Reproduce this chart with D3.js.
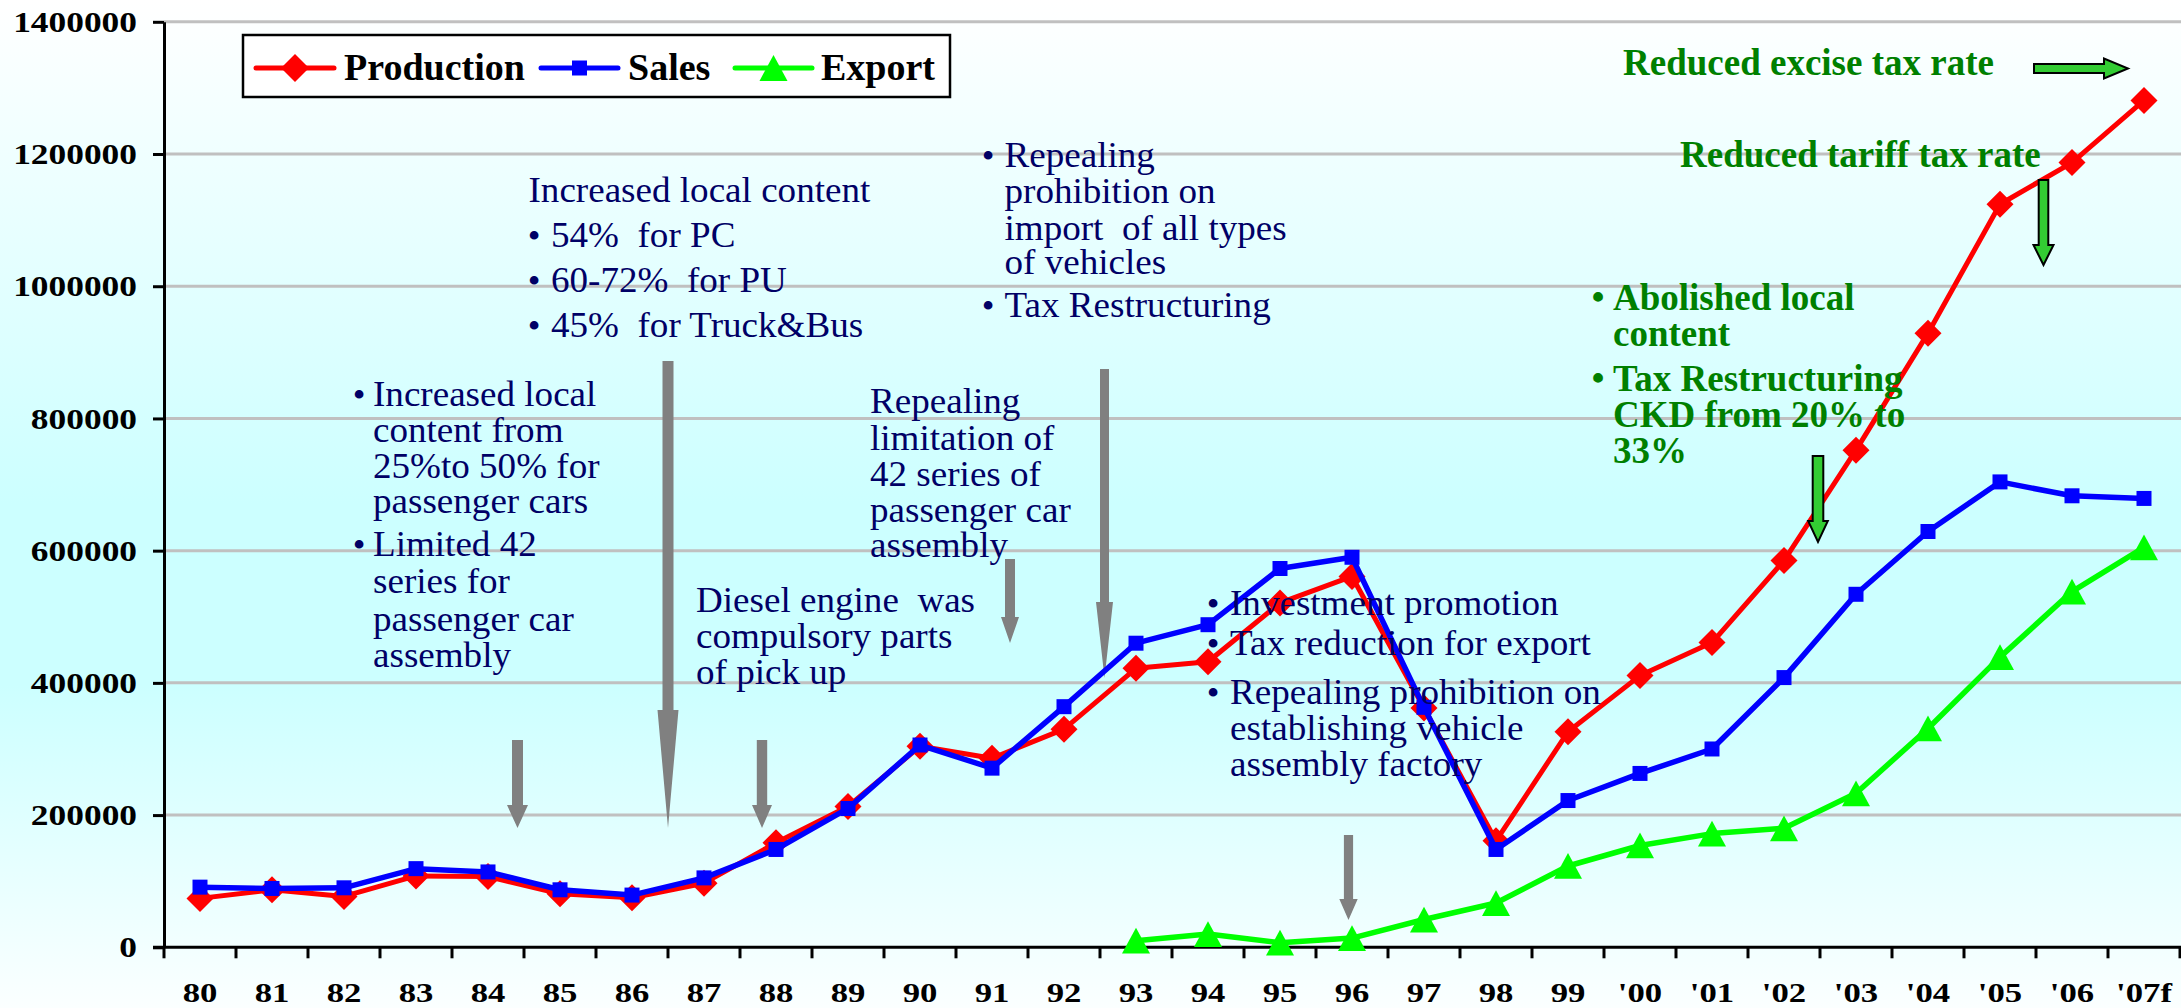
<!DOCTYPE html>
<html>
<head>
<meta charset="utf-8">
<script src="https://cdn.jsdelivr.net/npm/d3@7"></script>
<style>
  html, body { margin: 0; padding: 0; overflow: hidden; background: #fff; }
  svg { display: block; }
  text { font-family: "Liberation Serif", "Times New Roman", serif; white-space: pre; }
</style>
</head>
<body>
<script>
// ---- data ----
const years = ['80', '81', '82', '83', '84', '85', '86', '87', '88', '89',
  '90', '91', '92', '93', '94', '95', '96', '97', '98', '99',
  "'00", "'01", "'02", "'03", "'04", "'05", "'06", "'07f"]

const production = [74000, 87000, 77000, 108000, 107000, 81000, 75000, 97000, 158000, 213000,
  304000, 286000, 330000, 422000, 432000, 521000, 561000, 362000, 161000, 326000,
  411000, 461000, 585000, 752000, 929000, 1124000, 1187000, 1281000]

const sales = [91000, 89000, 90000, 119000, 114000, 87000, 79000, 105000, 148000, 210000,
  306000, 271000, 364000, 460000, 488000, 573000, 590000, 363000, 148000, 222000,
  263000, 300000, 408000, 534000, 629000, 704000, 683000, 679000]

const exportYears = ['93', '94', '95', '96', '97', '98', '99',
  "'00", "'01", "'02", "'03", "'04", "'05", "'06", "'07f"]
const exportVals = [10000, 20000, 7000, 14000, 42000, 67000, 123000,
  154000, 172000, 180000, 233000, 331000, 439000, 538000, 605000]

const yTicks = [0, 200000, 400000, 600000, 800000, 1000000, 1200000, 1400000]

const W = 2181, H = 1008
const svg = d3.select('body').append('svg').attr('width', W).attr('height', H)

// background gradient
const defs = svg.append('defs')
const grad = defs.append('linearGradient').attr('id', 'bg')
  .attr('x1', 0).attr('y1', 0).attr('x2', 0).attr('y2', 1)
grad.append('stop').attr('offset', '0%').attr('stop-color', '#ffffff')
grad.append('stop').attr('offset', '50%').attr('stop-color', '#ccffff')
grad.append('stop').attr('offset', '68%').attr('stop-color', '#ccffff')
grad.append('stop').attr('offset', '100%').attr('stop-color', '#fbffff')
svg.append('rect').attr('width', W).attr('height', H).attr('fill', 'url(#bg)')

const x = d3.scaleBand().domain(years).range([164, 2180])
const y = d3.scaleLinear().domain([0, 1400000]).range([947.3, 21.8])
const bw = x.bandwidth()
const cx = d => x(d) + bw / 2

// gridlines
svg.append('g').selectAll('line').data(yTicks.filter(v => v > 0)).join('line')
  .attr('x1', 164).attr('x2', W)
  .attr('y1', d => y(d)).attr('y2', d => y(d))
  .attr('stroke', '#c0c0c0').attr('stroke-width', 3)

// y axis
const yAxis = svg.append('g').attr('transform', 'translate(164,0)')
  .call(d3.axisLeft(y).tickValues(yTicks).tickFormat(d3.format('d'))
    .tickSize(11).tickSizeOuter(0).tickPadding(16))
yAxis.select('.domain').attr('stroke', '#000').attr('stroke-width', 3)
yAxis.selectAll('.tick line').attr('stroke', '#000').attr('stroke-width', 3)
yAxis.selectAll('.tick text')
  .attr('font-size', 30).attr('font-weight', 'bold').attr('fill', '#000')
  .attr('font-family', '"Liberation Serif", "Times New Roman", serif')
  .attr('x', -27 / 1.18).attr('transform', 'scale(1.18,1)')

// x axis
const xAxis = svg.append('g').attr('transform', `translate(0,${y(0)})`)
  .call(d3.axisBottom(x).tickSize(0).tickSizeOuter(0))
xAxis.select('.domain').remove()
xAxis.selectAll('.tick').attr('transform', d => `translate(${cx(d)},0)`)
xAxis.selectAll('.tick text')
  .attr('font-size', 28).attr('font-weight', 'bold').attr('fill', '#000')
  .attr('font-family', '"Liberation Serif", "Times New Roman", serif')
  .attr('x', 0).attr('y', 55).attr('dy', 0).attr('transform', 'scale(1.24,1)')
xAxis.append('line').attr('x1', 153).attr('x2', W).attr('y1', 0).attr('y2', 0)
  .attr('stroke', '#000').attr('stroke-width', 3)
xAxis.selectAll('.bound').data(years.map(d => x(d)).concat([x.range()[1]])).join('line')
  .attr('class', 'bound')
  .attr('x1', d => d).attr('x2', d => d).attr('y1', 0).attr('y2', 11)
  .attr('stroke', '#000').attr('stroke-width', 3)

// gray arrows (annotation pointers)
const grayArrows = [
  { cx: 517.5, hw: 5.5, top: 740, hs: 805, ah: 10.5, tip: 828 },
  { cx: 668, hw: 5.5, top: 361, hs: 710, ah: 10.5, tip: 828 },
  { cx: 762, hw: 5.2, top: 740, hs: 805, ah: 10, tip: 828 },
  { cx: 1010, hw: 5, top: 559, hs: 617, ah: 9, tip: 643 },
  { cx: 1104.5, hw: 4.5, top: 369, hs: 602, ah: 8.5, tip: 678 },
  { cx: 1348.5, hw: 4.6, top: 835, hs: 899, ah: 9.2, tip: 920 }
]
const downArrow = a => `M${a.cx - a.hw},${a.top}H${a.cx + a.hw}V${a.hs}H${a.cx + a.ah}L${a.cx},${a.tip}L${a.cx - a.ah},${a.hs}H${a.cx - a.hw}Z`
svg.append('g').selectAll('path').data(grayArrows).join('path')
  .attr('d', downArrow).attr('fill', '#808080')

// series
const series = [
  { name: 'Production', color: '#ff0000', width: 5, marker: 'diamond',
    pts: years.map((d, i) => ({ k: d, v: production[i] })) },
  { name: 'Sales', color: '#0000ff', width: 5.5, marker: 'square',
    pts: years.map((d, i) => ({ k: d, v: sales[i] })) },
  { name: 'Export', color: '#00ff00', width: 5.5, marker: 'triangle',
    pts: exportYears.map((d, i) => ({ k: d, v: exportVals[i] })) }
]

const markerPath = (type, s) => {
  if (type === 'diamond') return `M0,${-s / 2}L${s / 2},0L0,${s / 2}L${-s / 2},0Z`
  if (type === 'square') return `M${-s / 2},${-s / 2}h${s}v${s}h${-s}Z`
  return `M0,${-s * 0.46}L${s / 2},${s * 0.46}L${-s / 2},${s * 0.46}Z`
}
const markerSize = { diamond: 27, square: 15, triangle: 28 }

const line = d3.line().x(d => cx(d.k)).y(d => y(d.v))
series.forEach(s => {
  const g = svg.append('g')
  g.append('path').datum(s.pts).attr('d', line)
    .attr('fill', 'none').attr('stroke', s.color).attr('stroke-width', s.width)
    .attr('stroke-linejoin', 'round')
  g.selectAll('path.m').data(s.pts).join('path').attr('class', 'm')
    .attr('d', markerPath(s.marker, markerSize[s.marker]))
    .attr('transform', d => `translate(${cx(d.k)},${y(d.v)})`)
    .attr('fill', s.color)
})

// legend
const legend = svg.append('g')
legend.append('rect').attr('x', 243).attr('y', 35).attr('width', 707).attr('height', 62)
  .attr('fill', '#ffffff').attr('stroke', '#000').attr('stroke-width', 2.5)
const legendPos = [{ x1: 256, x2: 334, tx: 344 }, { x1: 541, x2: 618, tx: 628 }, { x1: 735, x2: 812, tx: 821 }]
series.forEach((s, i) => {
  const p = legendPos[i]
  legend.append('line').attr('x1', p.x1).attr('x2', p.x2).attr('y1', 68).attr('y2', 68)
    .attr('stroke', s.color).attr('stroke-width', 5).attr('stroke-linecap', 'round')
  legend.append('path').attr('d', markerPath(s.marker, s.marker === 'square' ? 15 : 28))
    .attr('transform', `translate(${(p.x1 + p.x2) / 2},68)`).attr('fill', s.color)
  legend.append('text').attr('x', p.tx).attr('y', 80).text(s.name)
    .attr('font-size', 38).attr('font-weight', 'bold').attr('fill', '#000')
})

// annotation text blocks
const navy = '#000066', green = '#008000'
const blocks = [
  { tx: 373, bx: 359, color: navy, bold: false, lines: [
    ['Increased local', 406, true], ['content from', 442], ['25%to 50% for', 478], ['passenger cars', 513],
    ['Limited 42', 556, true], ['series for', 593], ['passenger car', 631], ['assembly', 667]] },
  { tx: 528.5, bx: 531, color: navy, bold: false, lines: [
    ['Increased local content', 202]] },
  { tx: 551, bx: 534, color: navy, bold: false, lines: [
    ['54%  for PC', 247, true], ['60-72%  for PU', 292, true], ['45%  for Truck&Bus', 337, true]] },
  { tx: 1004.5, bx: 988, color: navy, bold: false, lines: [
    ['Repealing', 167, true], ['prohibition on', 203], ['import  of all types', 240], ['of vehicles', 274],
    ['Tax Restructuring', 317, true]] },
  { tx: 870, bx: 870, color: navy, bold: false, lines: [
    ['Repealing', 413], ['limitation of', 450], ['42 series of', 486], ['passenger car', 522], ['assembly', 557]] },
  { tx: 696, bx: 696, color: navy, bold: false, lines: [
    ['Diesel engine  was', 612], ['compulsory parts', 648], ['of pick up', 684]] },
  { tx: 1230, bx: 1213, color: navy, bold: false, lines: [
    ['Investment promotion', 615, true], ['Tax reduction for export', 655, true],
    ['Repealing prohibition on', 704, true], ['establishing vehicle', 740], ['assembly factory', 776]] },
  { tx: 1613, bx: 1598, color: green, bold: true, lines: [
    ['Abolished local', 310, true], ['content', 346],
    ['Tax Restructuring', 391, true], ['CKD from 20% to', 427], ['33%', 463]] },
  { tx: 1623, bx: 1623, color: green, bold: true, lines: [['Reduced excise tax rate', 75]] },
  { tx: 1680, bx: 1680, color: green, bold: true, lines: [['Reduced tariff tax rate', 167]] }
]
const notes = svg.append('g')
blocks.forEach(b => {
  const fs = b.bold ? 37 : 35
  const sx = b.bold ? 1.0 : 1.06
  b.lines.forEach(([t, ly, bullet]) => {
    notes.append('text').text(t)
      .attr('transform', `translate(${b.tx},${ly}) scale(${sx},1)`)
      .attr('font-size', fs).attr('font-weight', b.bold ? 'bold' : 'normal')
      .attr('fill', b.color)
    if (bullet) {
      notes.append('text').text('•')
        .attr('transform', `translate(${b.bx},${ly - 1})`)
        .attr('text-anchor', 'middle')
        .attr('font-size', b.bold ? 36 : 32).attr('font-weight', 'bold').attr('fill', b.color)
    }
  })
})

// green outlined arrows
const rightArrow = a => `M${a.x0},${a.cy - a.hw}H${a.hs}V${a.cy - a.ah}L${a.tip},${a.cy}L${a.hs},${a.cy + a.ah}V${a.cy + a.hw}H${a.x0}Z`
const greenG = svg.append('g').attr('fill', '#33cc33').attr('stroke', '#000').attr('stroke-width', 2)
greenG.append('path').attr('d', rightArrow({ x0: 2034, cy: 68.5, hw: 4.5, hs: 2104, ah: 10, tip: 2128 }))
greenG.append('path').attr('d', downArrow({ cx: 2043.5, hw: 4.8, top: 180, hs: 245, ah: 10, tip: 265 }))
greenG.append('path').attr('d', downArrow({ cx: 1818, hw: 5.3, top: 456, hs: 521, ah: 9.8, tip: 542 }))
</script>
</body>
</html>
